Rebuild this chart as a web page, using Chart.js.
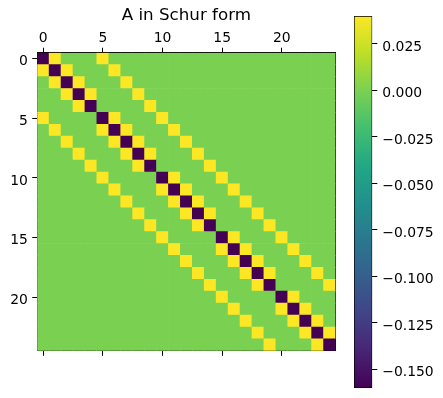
<!DOCTYPE html>
<html>
<head>
<meta charset="utf-8">
<script src="https://cdn.jsdelivr.net/npm/chart.js@4"></script>
<style>
  html, body { margin: 0; padding: 0; background: #fff; }
  #wrap { position: relative; width: 443px; height: 398px; }
  #matBox { position: absolute; left: 0; top: 0; width: 345px; height: 398px; }
  #barBox { position: absolute; left: 345px; top: 0; width: 98px; height: 398px; }
</style>
</head>
<body>
<div id="wrap">
  <div id="matBox"><canvas id="matrix"></canvas></div>
  <div id="barBox"><canvas id="colorbar"></canvas></div>
</div>
<script>
const chartTitle = "A in Schur form";

// cell codes: D = dark diagonal, Y = yellow, . = zero
const cellCodes = { D: -0.16, Y: 0.04, ".": 0 };
const rows = [
  "DY... Y.... ..... ..... .....",
  "YDY.. .Y... ..... ..... .....",
  ".YDY. ..Y.. ..... ..... .....",
  "..YDY ...Y. ..... ..... .....",
  "...YD ....Y ..... ..... .....",
  "Y.... DY... Y.... ..... .....",
  ".Y... YDY.. .Y... ..... .....",
  "..Y.. .YDY. ..Y.. ..... .....",
  "...Y. ..YDY ...Y. ..... .....",
  "....Y ...YD ....Y ..... .....",
  "..... Y.... DY... Y.... .....",
  "..... .Y... YDY.. .Y... .....",
  "..... ..Y.. .YDY. ..Y.. .....",
  "..... ...Y. ..YDY ...Y. .....",
  "..... ....Y ...YD ....Y .....",
  "..... ..... Y.... DY... Y....",
  "..... ..... .Y... YDY.. .Y...",
  "..... ..... ..Y.. .YDY. ..Y..",
  "..... ..... ...Y. ..YDY ...Y.",
  "..... ..... ....Y ...YD ....Y",
  "..... ..... ..... Y.... DY...",
  "..... ..... ..... .Y... YDY..",
  "..... ..... ..... ..Y.. .YDY.",
  "..... ..... ..... ...Y. ..YDY",
  "..... ..... ..... ....Y ...YD"
];
const axisTicks = [0, 5, 10, 15, 20];
const colorbarTicks = [0.025, 0, -0.025, -0.05, -0.075, -0.1, -0.125, -0.15];

const viridis = ["#440154", "#482475", "#414487", "#355f8d", "#2a788e",
                 "#21918c", "#22a884", "#44bf70", "#7ad151", "#bddf26", "#fde725"];

function hexRgb(h) {
  return [1, 3, 5].map(i => parseInt(h.slice(i, i + 2), 16));
}

function cmap(t) {
  t = Math.max(0, Math.min(1, t));
  const p = t * (viridis.length - 1);
  const k = Math.min(Math.floor(p), viridis.length - 2);
  const f = p - k;
  const a = hexRgb(viridis[k]), b = hexRgb(viridis[k + 1]);
  const c = a.map((v, i) => Math.round(v + (b[i] - v) * f));
  return `rgb(${c[0]},${c[1]},${c[2]})`;
}

const cells = [];
rows.forEach((r, i) => {
  r.replace(/ /g, "").split("").forEach((code, j) => {
    cells.push({ x: j, y: [i - 0.5, i + 0.5], v: cellCodes[code] });
  });
});
const values = cells.map(c => c.v);
const vmin = Math.min(...values);
const vmax = Math.max(...values);
const n = rows.length;

Chart.defaults.font.family = "'DejaVu Sans'";
Chart.defaults.font.size = 13.9;
Chart.defaults.color = "#000";

const setTicks = list => s => { s.ticks = list.map(v => ({ value: v })); };
const tickGrid = { display: true, drawOnChartArea: false, drawTicks: true, tickLength: 5, tickColor: "#000", tickWidth: 1, offset: false };
const spine = { display: true, color: "#000", width: 1 };

new Chart(document.getElementById("matrix"), {
  type: "bar",
  data: {
    datasets: [{
      data: cells,
      xAxisID: "x",
      yAxisID: "y",
      backgroundColor: ctx => cmap((ctx.raw.v - vmin) / (vmax - vmin)),
      borderWidth: 0,
      barPercentage: 1,
      categoryPercentage: 1
    }]
  },
  options: {
    responsive: true,
    maintainAspectRatio: false,
    animation: false,
    events: [],
    layout: { padding: { left: 0, right: 9.5, top: 0, bottom: 0 } },
    plugins: {
      legend: { display: false },
      tooltip: { enabled: false },
      title: {
        display: true,
        text: chartTitle,
        fullSize: false,
        color: "#000",
        font: { size: 16.7, weight: "normal", lineHeight: 1.2 },
        padding: { top: 5.9, bottom: 0 }
      }
    },
    scales: {
      x: {
        type: "linear", position: "bottom", min: -0.5, max: n - 0.5, offset: false,
        afterBuildTicks: setTicks(axisTicks),
        afterFit: s => { s.height = 47.2; },
        ticks: { display: false },
        grid: tickGrid, border: spine
      },
      xTop: {
        type: "linear", position: "top", min: -0.5, max: n - 0.5, offset: false,
        afterBuildTicks: setTicks(axisTicks),
        afterFit: s => { s.height = 26.8; },
        ticks: { display: true, padding: 1, autoSkip: false, maxRotation: 0, callback: v => String(v) },
        grid: tickGrid, border: spine
      },
      y: {
        type: "linear", position: "left", reverse: true, min: -0.5, max: n - 0.5,
        afterBuildTicks: setTicks(axisTicks),
        afterFit: s => { s.width = 37.2; },
        ticks: { display: true, padding: 4.3, labelOffset: 3, autoSkip: false, callback: v => String(v) },
        grid: tickGrid, border: spine
      },
      yRight: {
        type: "linear", position: "right", min: -0.5, max: n - 0.5,
        afterFit: s => { s.width = 0; },
        ticks: { display: false },
        grid: { display: false }, border: spine
      }
    }
  }
});

new Chart(document.getElementById("colorbar"), {
  type: "bar",
  data: {
    labels: [""],
    datasets: [{
      data: [[vmin, vmax]],
      barPercentage: 1,
      categoryPercentage: 1,
      borderWidth: 1,
      borderColor: "#000",
      borderSkipped: false,
      backgroundColor: ctx => {
        const area = ctx.chart.chartArea;
        if (!area) return viridis[5];
        const g = ctx.chart.ctx.createLinearGradient(0, area.bottom, 0, area.top);
        viridis.forEach((c, i) => g.addColorStop(i / (viridis.length - 1), c));
        return g;
      }
    }]
  },
  options: {
    responsive: true,
    maintainAspectRatio: false,
    animation: false,
    events: [],
    layout: { padding: { left: 9, right: 0, top: 16, bottom: 10 } },
    plugins: { legend: { display: false }, tooltip: { enabled: false } },
    scales: {
      x: { display: false },
      y: {
        type: "linear", position: "right", min: vmin, max: vmax,
        afterBuildTicks: setTicks(colorbarTicks),
        afterFit: s => { s.width = 70.7; s.paddingTop = 0; s.paddingBottom = 0; },
        ticks: { padding: 5, labelOffset: 3, autoSkip: false, callback: v => v.toFixed(3).replace("-", "\u2212") },
        grid: tickGrid,
        border: { display: false }
      }
    }
  }
});
</script>
</body>
</html>
